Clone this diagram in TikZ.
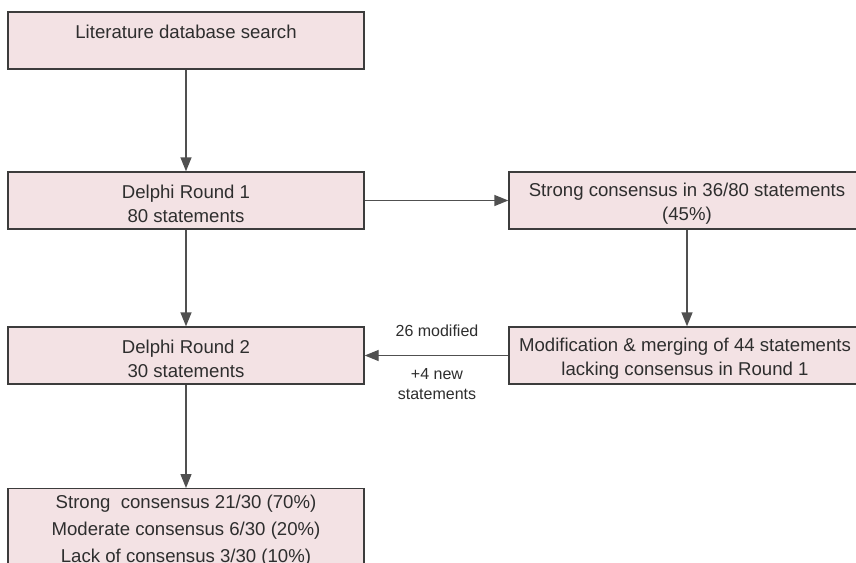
\documentclass[tikz,border=0pt]{standalone}
\usepackage{fontspec}
\setmainfont{Liberation Sans}
\usetikzlibrary{arrows.meta}
\definecolor{boxfill}{HTML}{F3E2E4}
\definecolor{boxline}{HTML}{3C3C3C}
\definecolor{arrowline}{HTML}{505050}
\definecolor{txtcol}{HTML}{2E2E2E}
\tikzset{
  box/.style={draw=boxline, line width=1.4pt, fill=boxfill, rectangle,
    minimum width=356pt, minimum height=57pt, inner sep=0pt},
  boxtxt/.style={align=center, text=txtcol, inner sep=0pt,
    font=\fontsize{18.6}{24}\selectfont},
  bigtxt/.style={align=center, text=txtcol, inner sep=0pt,
    font=\fontsize{18.6}{27}\selectfont},
  lbl/.style={align=center, text=txtcol, inner sep=0pt,
    font=\fontsize{16}{20}\selectfont},
  arr/.style={draw=arrowline, line width=1.4pt,
    -{Triangle[length=14pt,width=11pt]}}
}
\begin{document}
\begin{tikzpicture}[x=1pt,y=-1pt]
\clip (0,0) rectangle (856,562);
\fill[white] (0,0) rectangle (856,562);
\node[box] (b1) at (186,40.5) {};
\node[box] (b2) at (186,200.5) {};
\node[box] (b3) at (687,200.5) {};
\node[box] (b4) at (186,355.5) {};
\node[box] (b5) at (687,355.5) {};
\node[box, minimum height=100pt, anchor=north] (b6) at (186,488) {};
\node[boxtxt] (t1) at (186,32) {Literature database search};
\node[boxtxt] (t2) at (186,204) {Delphi Round 1\\80 statements};
\node[boxtxt] (t3) at (687,204) {Strong consensus in 36/80 statements\\(45\%)};
\node[boxtxt] (t4) at (186,359) {Delphi Round 2\\30 statements};
\node[boxtxt] (t5) at (685,359) {Modification \& merging of 44 statements\\lacking consensus in Round 1};
\node[bigtxt] (t6) at (186,531) {Strong\ \ consensus 21/30 (70\%)\\Moderate consensus 6/30 (20\%)\\Lack of consensus 3/30 (10\%)};
\draw[arr] (b1) -- (b2);
\draw[arr] (b2) -- (b4);
\draw[arr] (b4) -- (b6);
\draw[arr] (b2) -- (b3);
\draw[arr] (b3) -- (b5);
\draw[arr] (b5) -- (b4);
\node[lbl] (l1) at (437,331) {26 modified};
\node[lbl] (l2) at (437,384) {+4 new\\statements};
\end{tikzpicture}
\end{document}
